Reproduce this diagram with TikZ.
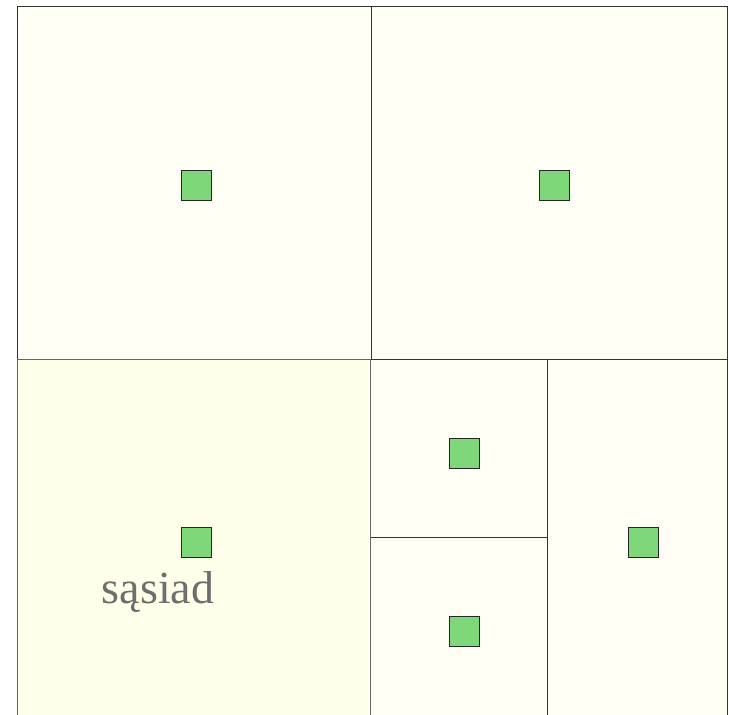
\documentclass[tikz,border=0pt]{standalone}
\usepackage{fontspec}
\setmainfont{Liberation Serif}
\definecolor{cellfill}{HTML}{FFFFF5}
\definecolor{nbfill}{HTML}{FFFFEA}
\definecolor{ptfill}{HTML}{7ED87A}
\definecolor{txtgray}{HTML}{6E6E6E}
\tikzset{
  cell/.style={draw=black!80, line width=0.8pt, fill=cellfill},
  nbcell/.style={draw=black!60, line width=1pt, fill=nbfill},
  pt/.style={draw=black!85, line width=0.8pt, fill=ptfill, minimum size=30pt, inner sep=0pt, outer sep=0pt},
}
\begin{document}
\begin{tikzpicture}[x=1pt,y=-1pt]
\useasboundingbox (0,0) rectangle (729,715);
\path[cell] (17,6) rectangle (371,359);
\path[cell] (371,6) rectangle (727,359);
\path[cell] (370,359) rectangle (547,537);
\path[cell] (370,537) rectangle (547,716);
\path[cell] (547,359) rectangle (727,716);
\path[nbcell] (17,359) rectangle (370,716);
\node[pt] (p1) at (196,185) {};
\node[pt] (p2) at (554,185) {};
\node[pt] (p3) at (196,542) {};
\node[pt] (p4) at (464,453) {};
\node[pt] (p5) at (464,631) {};
\node[pt] (p6) at (643,542) {};
\node[text=txtgray, font=\fontsize{46}{50}\selectfont, anchor=base, inner sep=0pt] (lbl) at (158,603) {sąsiad};
\end{tikzpicture}
\end{document}
